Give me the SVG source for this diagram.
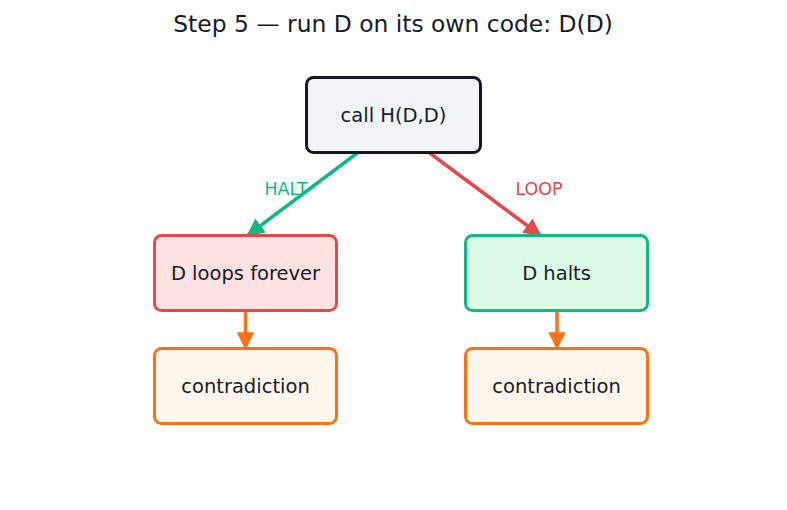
<svg xmlns="http://www.w3.org/2000/svg" width="787" height="510" viewBox="0 0 787 510">
  <style>
    .box { stroke-width: 3; }
    .lbl { font-family: "DejaVu Sans", "Liberation Sans", sans-serif; font-size: 19.5px; fill: #161b26; text-anchor: middle; dominant-baseline: central; }
    .elbl { font-family: "DejaVu Sans", "Liberation Sans", sans-serif; font-size: 17.5px; text-anchor: middle; dominant-baseline: central; }
    .title { font-family: "DejaVu Sans", "Liberation Sans", sans-serif; font-size: 23.4px; fill: #161b26; text-anchor: middle; dominant-baseline: central; }
    .edge { fill: none; stroke-width: 3.5; }
  </style>
  <defs>
    <marker id="arrGreen" viewBox="0 0 10 10" refX="9" refY="5" markerWidth="5" markerHeight="5" orient="auto" markerUnits="strokeWidth">
      <path d="M0,0 L10,5 L0,10 z" fill="#10b981"/>
    </marker>
    <marker id="arrRed" viewBox="0 0 10 10" refX="9" refY="5" markerWidth="5" markerHeight="5" orient="auto" markerUnits="strokeWidth">
      <path d="M0,0 L10,5 L0,10 z" fill="#e5484d"/>
    </marker>
    <marker id="arrOrange" viewBox="0 0 10 10" refX="9" refY="5" markerWidth="5" markerHeight="5" orient="auto" markerUnits="strokeWidth">
      <path d="M0,0 L10,5 L0,10 z" fill="#f97316"/>
    </marker>
  </defs>
  <rect width="787" height="510" fill="#ffffff"/>
  <text class="title" x="393" y="24">Step 5 — run D on its own code: D(D)</text>

  <g id="connectors">
    <line class="edge" x1="360" y1="151" x2="248" y2="235" stroke="#10b981" marker-end="url(#arrGreen)"/>
    <line class="edge" x1="427" y1="151" x2="540" y2="235" stroke="#e5484d" marker-end="url(#arrRed)"/>
    <line class="edge" x1="245.5" y1="311" x2="245.5" y2="348" stroke="#f97316" marker-end="url(#arrOrange)"/>
    <line class="edge" x1="557" y1="311" x2="557" y2="348" stroke="#f97316" marker-end="url(#arrOrange)"/>
    <text class="elbl" x="286" y="189" fill="#10b981">HALT</text>
    <text class="elbl" x="539" y="189" fill="#e5484d">LOOP</text>
  </g>

  <g id="call">
    <rect class="box" x="306.5" y="77.5" width="174" height="75" rx="7" fill="#f1f4f7" stroke="#141722"/>
    <text class="lbl" x="393.5" y="115">call H(D,D)</text>
  </g>
  <g id="loops">
    <rect class="box" x="154.5" y="235.5" width="182" height="75" rx="7" fill="#fee2e2" stroke="#e5484d"/>
    <text class="lbl" x="245.5" y="273">D loops forever</text>
  </g>
  <g id="halts">
    <rect class="box" x="465.5" y="235.5" width="182" height="75" rx="7" fill="#dcfce7" stroke="#10b981"/>
    <text class="lbl" x="556.5" y="273">D halts</text>
  </g>
  <g id="contradiction-left">
    <rect class="box" x="154.5" y="348.5" width="182" height="75" rx="7" fill="#fff7ed" stroke="#f97316"/>
    <text class="lbl" x="245.5" y="386">contradiction</text>
  </g>
  <g id="contradiction-right">
    <rect class="box" x="465.5" y="348.5" width="182" height="75" rx="7" fill="#fff7ed" stroke="#f97316"/>
    <text class="lbl" x="556.5" y="386">contradiction</text>
  </g>
</svg>
